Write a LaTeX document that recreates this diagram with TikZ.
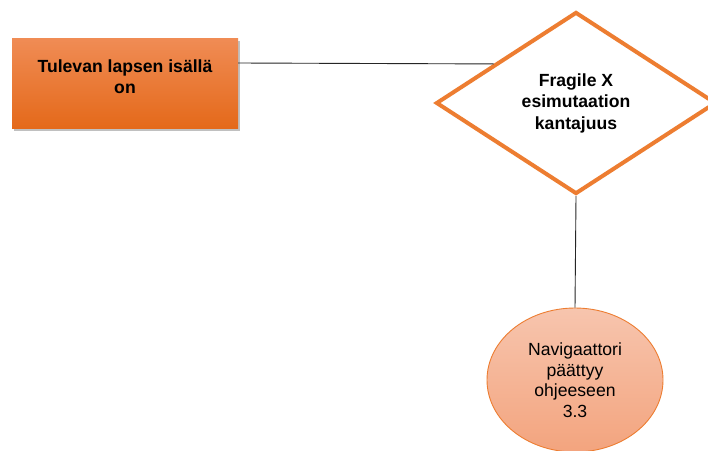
\documentclass[tikz,border=0pt]{standalone}
\usepackage{fontspec}
\setmainfont{Liberation Sans}
\usetikzlibrary{shapes.geometric,shadows,calc}
\definecolor{accent}{HTML}{ED7D31}
\definecolor{boxtop}{HTML}{F08C55}
\definecolor{boxbottom}{HTML}{E4691A}
\definecolor{endtop}{HTML}{F7C5AE}
\definecolor{endbottom}{HTML}{F3A47E}
\tikzset{
  every node/.style={font=\fontsize{17.5}{21}\selectfont, align=center, inner sep=0pt},
  startbox/.style={rectangle, minimum width=226pt, minimum height=90pt,
    top color=boxtop, bottom color=boxbottom, draw=none,
    drop shadow={shadow xshift=2pt, shadow yshift=-2.5pt, opacity=0.35, fill=black!70}},
  boxlabel/.style={font=\fontsize{17.6}{21}\selectfont\bfseries},
  decision/.style={diamond, draw=accent, line width=4pt, fill=white,
    minimum width=280pt, minimum height=182pt, aspect=1.54,
    font=\fontsize{17.6}{21.5}\selectfont\bfseries},
  endpoint/.style={ellipse, draw=accent, line width=0.9pt,
    top color=endtop, bottom color=endbottom,
    minimum width=176pt, minimum height=144pt,
    font=\fontsize{17.6}{20.5}\selectfont},
  link/.style={draw=black!85, line width=0.9pt}
}
\begin{document}
\begin{tikzpicture}[x=1pt, y=-1pt]
  \useasboundingbox (0,0) rectangle (708,450);
  \fill[white] (0,0) rectangle (708,450);

  % start box, decision and end point
  \node[startbox] (a) at (125,83) {};
  \node[boxlabel] (atext) at (125,76.5) {Tulevan lapsen isällä\\on};
  \node[decision] (b) at (576,103) {Fragile X\\esimutaation\\kantajuus};
  \node[endpoint] (c) at (575,380) {Navigaattori\\päättyy\\ohjeeseen\\3.3};

  % connectors
  \draw[link] ([yshift=20pt]a.east) -- ($(b.west)!0.42!(b.north)$);
  \draw[link] (b.south) -- (c.north);
\end{tikzpicture}
\end{document}
